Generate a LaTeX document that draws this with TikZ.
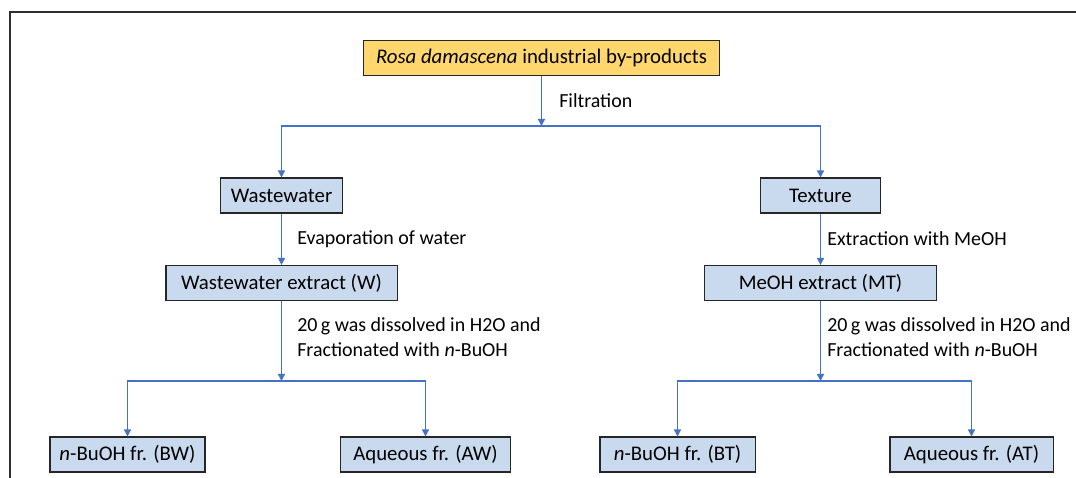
\documentclass[tikz,border=0pt]{standalone}
\usepackage{fontspec}
\setmainfont{Carlito}
\usetikzlibrary{arrows.meta}
\definecolor{boxblue}{HTML}{C9D9EE}
\definecolor{boxgold}{HTML}{FFD76E}
\definecolor{lineblue}{HTML}{4472C4}
\definecolor{framegray}{HTML}{2E2E2E}
\begin{document}
\begin{tikzpicture}[x=0.025cm,y=-0.025cm,every node/.style={font=\fontsize{14.8}{17.7}\selectfont},
  box/.style={draw=black!85,line width=0.9pt,fill=boxblue,minimum height=0.87cm,inner sep=0pt},
  lbl/.style={anchor=west,align=left,inner sep=0pt,font=\fontsize{14.2}{17.7}\selectfont},
  arr/.style={draw=lineblue,line width=1pt,-{Triangle[length=5pt,width=5pt]}}]
\useasboundingbox (0,0) rectangle (1076,478);
\draw[framegray,line width=1.8pt] (10,478) -- (10,12) -- (1076,12);
% top and first split
\node[box,fill=boxgold,minimum width=8.9cm] (src) at (541.5,58) {\textit{Rosa damascena} industrial by-products};
\coordinate (s1) at (541.5,126);
\draw[arr] (src) -- (s1); \node[lbl] (filt) at (559,101) {Filtration};
\node[box,minimum width=3.05cm] (ww) at (281.5,195.5) {Wastewater};
\node[box,minimum width=3cm] (tex) at (820.5,195.5) {Texture};
\draw[arr] (s1) -| (ww); \draw[arr] (s1) -| (tex);
% wastewater branch
\node[box,minimum width=5.78cm] (wext) at (281.5,283) {Wastewater extract (W)};
\draw[arr] (ww) -- (wext); \node[lbl] (evap) at (297,239) {Evaporation of water};
\coordinate (s2) at (281.5,381);
\draw[arr] (wext) -- (s2);
\node[lbl] (fracw) at (297,337.5) {20\,g was dissolved in H2O and\\Fractionated with \textit{n}-BuOH};
\node[box,minimum width=3.88cm] (bw) at (127.5,454.5) {\textit{n}-BuOH fr. (BW)};
\node[box,minimum width=4.25cm] (aw) at (425.5,454.5) {Aqueous fr. (AW)};
\draw[arr] (s2) -| (bw); \draw[arr] (s2) -| (aw);
% texture branch
\node[box,minimum width=5.8cm] (mt) at (820.5,283) {MeOH extract (MT)};
\draw[arr] (tex) -- (mt); \node[lbl] (meoh) at (827,239) {Extraction with MeOH};
\coordinate (s3) at (820.5,381);
\draw[arr] (mt) -- (s3);
\node[lbl] (fract) at (827,337.5) {20\,g was dissolved in H2O and\\Fractionated with \textit{n}-BuOH};
\node[box,minimum width=3.88cm] (bt) at (677.5,454.5) {\textit{n}-BuOH fr. (BT)};
\node[box,minimum width=4.08cm] (at) at (971.5,454.5) {Aqueous fr. (AT)};
\draw[arr] (s3) -| (bt); \draw[arr] (s3) -| (at);
\end{tikzpicture}
\end{document}
